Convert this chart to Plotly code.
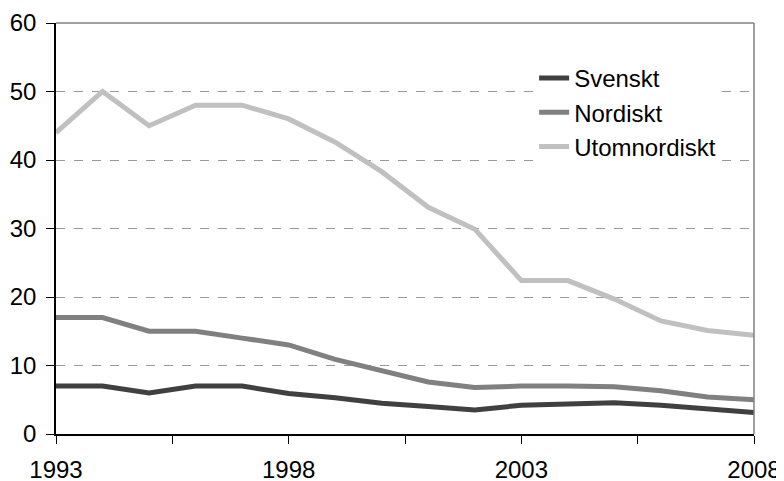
import plotly.graph_objects as go

years = list(range(1993, 2009))
svenskt = [7.0, 7.0, 6.0, 7.0, 7.0, 5.9, 5.3, 4.5, 4.0, 3.5, 4.2, 4.45, 4.55, 4.2, 3.6, 3.15]
nordiskt = [17.0, 17.0, 15.0, 15.0, 14.0, 13.0, 10.9, 9.3, 7.6, 6.8, 7.0, 7.0, 6.9, 6.3, 5.4, 5.0]
utomnordiskt = [44.0, 50.0, 45.0, 48.0, 48.0, 46.0, 42.6, 38.3, 33.1, 29.9, 22.4, 22.4, 19.7, 16.5, 15.1, 14.4]

series_names = ["Svenskt", "Nordiskt", "Utomnordiskt"]
series_colors = ["#404040", "#808080", "#c0c0c0"]
x_tickvals = [1993, 1995.5, 1998, 2000.5, 2003, 2005.5, 2008]
x_ticktext = ["1993", "", "1998", "", "2003", "", "2008"]
y_tickvals = [0, 10, 20, 30, 40, 50, 60]

fig = go.Figure()
for name, vals, col in zip(series_names, [svenskt, nordiskt, utomnordiskt], series_colors):
    fig.add_trace(go.Scatter(x=years, y=vals, name=name, mode="lines",
                             line=dict(color=col, width=5)))

fig.update_layout(
    width=784, height=481,
    margin=dict(l=48, r=38, t=15, b=55),
    paper_bgcolor="white", plot_bgcolor="white",
    font=dict(family="Liberation Sans, Arial", size=24, color="black"),
    showlegend=True,
    legend=dict(x=0.685, y=0.92, xanchor="left", yanchor="top",
                bgcolor="white", borderwidth=0, tracegroupgap=0,
                itemwidth=30, font=dict(size=24)),
    xaxis=dict(range=[1993, 2008], tickmode="array", tickvals=x_tickvals, ticktext=x_ticktext,
               ticks="outside", ticklen=8, tickcolor="black", tickwidth=1,
               showline=True, linecolor="black", linewidth=1.5,
               showgrid=False, zeroline=False, automargin=False, ticklabelstandoff=5),
    yaxis=dict(range=[0, 60], tickmode="array", tickvals=y_tickvals,
               ticks="outside", ticklen=8, tickcolor="black", tickwidth=1,
               showline=True, linecolor="black", linewidth=1.5,
               showgrid=True, gridcolor="#999999", griddash="dash", gridwidth=1,
               zeroline=False, automargin=False, ticklabelstandoff=5),
)
# top and right border of plot area
fig.add_shape(type="line", xref="x domain", yref="y domain", x0=0, x1=1, y0=1, y1=1,
              line=dict(color="#808080", width=1.5))
fig.add_shape(type="line", xref="x domain", yref="y domain", x0=1, x1=1, y0=0, y1=1,
              line=dict(color="#808080", width=1.5))

fig.write_html("out.html")
